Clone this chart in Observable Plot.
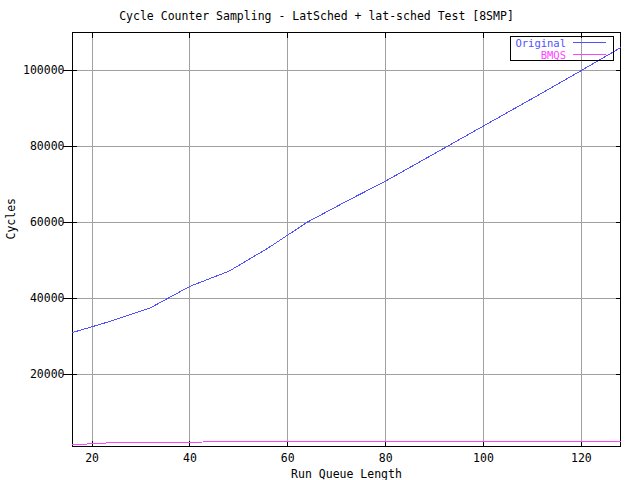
<!DOCTYPE html>
<html><head><meta charset="utf-8">
<script src="https://cdn.jsdelivr.net/npm/d3@7"></script>
<script src="https://cdn.jsdelivr.net/npm/@observablehq/plot@0.6"></script>
<style>body{margin:0;background:#fff} svg{display:block} svg line, svg path, svg rect{shape-rendering:crispEdges}</style>
</head><body><div id="chart"></div>
<script>
const runQueueLength = [16, 24, 32, 40, 48, 56, 64, 72, 80, 88, 96, 104, 112, 120, 128];
const original = [31050, 34100, 37600, 43200, 47200, 53300, 60100, 65600, 70900, 76700, 82500, 88300, 94100, 100000, 106000];
const bmqs = [1500, 2050, 2100, 2200, 2300, 2310, 2320, 2330, 2330, 2340, 2340, 2350, 2350, 2350, 2350];
const xTicks = [20, 40, 60, 80, 100, 120];
const yTicks = [20000, 40000, 60000, 80000, 100000];
const seriesNames = ["Original", "BMQS"];
const seriesColors = ["#5050ff", "#ff44ff"];
const title = "Cycle Counter Sampling - LatSched + lat-sched Test [8SMP]";
const xLabel = "Run Queue Length";
const yLabel = "Cycles";

const rows = runQueueLength.flatMap((x, i) => [
  {x, y: original[i], s: seriesNames[0]},
  {x, y: bmqs[i], s: seriesNames[1]}
]);
const font = "DejaVu Sans Mono";
const fs = 11.5;
const noText = () => "";

const chart = Plot.plot({
  width: 640, height: 480,
  marginLeft: 72, marginRight: 20, marginTop: 32, marginBottom: 34,
  style: {fontFamily: font, fontSize: fs + "px", background: "#fff", color: "#000", overflow: "visible"},
  x: {domain: [16, 128]},
  y: {domain: [1050, 110000]},
  color: {domain: seriesNames, range: seriesColors},
  marks: [
    Plot.gridX(xTicks, {stroke: "#a0a0a0", strokeOpacity: 1}),
    Plot.gridY(yTicks, {stroke: "#a0a0a0", strokeOpacity: 1}),
    Plot.frame({stroke: "#000"}),
    // inward / crossing ticks
    Plot.axisX(xTicks, {anchor: "bottom", tickSize: 5, dy: -5, tickFormat: noText, label: null, stroke: "#000"}),
    Plot.axisX(xTicks, {anchor: "top", tickSize: 5, dy: 5, tickFormat: noText, label: null, stroke: "#000"}),
    Plot.axisY(yTicks, {anchor: "left", tickSize: 14, dx: 5, tickFormat: noText, label: null, stroke: "#000"}),
    Plot.axisY(yTicks, {anchor: "right", tickSize: 5, dx: -5, tickFormat: noText, label: null, stroke: "#000"}),
    // tick labels
    Plot.axisX(xTicks, {anchor: "bottom", tickSize: 0, tickPadding: 7, tickFormat: "d", label: null, fill: "#000"}),
    Plot.axisY(yTicks, {anchor: "left", tickSize: 0, tickPadding: 8, tickFormat: "d", label: null, fill: "#000"}),
    Plot.line(rows, {x: "x", y: "y", z: "s", stroke: "s", strokeWidth: 1}),
    Plot.text([title], {text: d => d, frameAnchor: "top", lineAnchor: "middle", dy: -16, dx: -30, fill: "#000"}),
    Plot.text([xLabel], {text: d => d, frameAnchor: "bottom", lineAnchor: "middle", dy: 28, fill: "#000"}),
    Plot.text([yLabel], {text: d => d, frameAnchor: "left", lineAnchor: "middle", dx: -61, rotate: -90, fill: "#000"})
  ]
});
document.getElementById("chart").appendChild(chart);

// legend (gnuplot-style key box, top right, unfilled)
const svg = d3.select(chart);
const g = svg.append("g").attr("font-family", font).attr("font-size", "10.5px");
g.append("rect").attr("x", 510.5).attr("y", 36.5).attr("width", 103).attr("height", 24)
  .attr("fill", "none").attr("stroke", "#000");
seriesNames.forEach((name, i) => {
  const yy = 42.5 + i * 12;
  g.append("text").attr("x", 566).attr("y", yy).attr("text-anchor", "end")
    .attr("dominant-baseline", "central").attr("fill", seriesColors[i]).text(name);
  g.append("line").attr("x1", 573).attr("x2", 606).attr("y1", yy - 0.5).attr("y2", yy - 0.5)
    .attr("stroke", seriesColors[i]);
});
</script></body></html>
